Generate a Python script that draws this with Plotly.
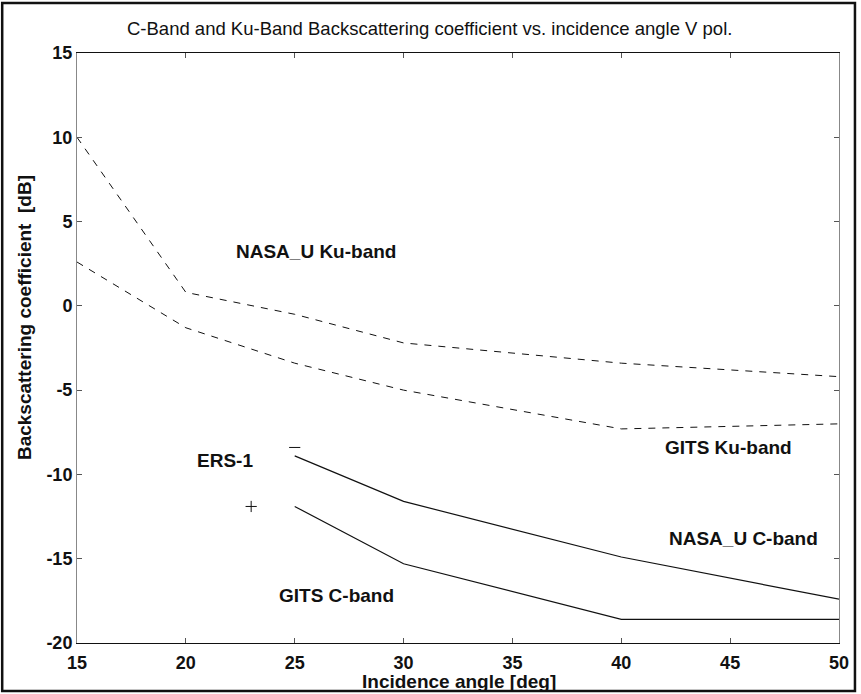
import plotly.graph_objects as go

# Incidence angles (deg)
ku_angles = [15, 20, 25, 30, 40, 50]
c_angles = [25, 30, 40, 50]

# Backscattering coefficient (dB), V polarisation
nasa_ku = [10.0, 0.8, -0.5, -2.2, -3.4, -4.2]
gits_ku = [2.6, -1.3, -3.4, -5.0, -7.3, -7.0]
nasa_c = [-8.9, -11.6, -14.9, -17.4]
gits_c = [-11.9, -15.3, -18.6, -18.6]

# ERS-1 reference points
ers_angles = [25, 23]
ers_values = [-8.4, -11.9]

x_ticks = [15, 20, 25, 30, 35, 40, 45, 50]
y_ticks = [-20, -15, -10, -5, 0, 5, 10, 15]
y_tick_text = ["-20", "-15", "-10", "-5", "0", "5", "10", "15"]

FONT = "Liberation Sans, Arial, sans-serif"
INK = "#111111"

fig = go.Figure()

dash = "7px,7px"
fig.add_trace(go.Scatter(x=ku_angles, y=nasa_ku, mode="lines",
                         line=dict(color=INK, width=1, dash=dash),
                         name="NASA_U Ku-band"))
fig.add_trace(go.Scatter(x=ku_angles, y=gits_ku, mode="lines",
                         line=dict(color=INK, width=1, dash=dash),
                         name="GITS Ku-band"))
fig.add_trace(go.Scatter(x=c_angles, y=nasa_c, mode="lines",
                         line=dict(color=INK, width=1.2),
                         name="NASA_U C-band"))
fig.add_trace(go.Scatter(x=c_angles, y=gits_c, mode="lines",
                         line=dict(color=INK, width=1.2),
                         name="GITS C-band"))
fig.add_trace(go.Scatter(x=ers_angles, y=ers_values, mode="markers",
                         marker=dict(symbol=["line-ew-open", "cross-thin-open"],
                                     size=8, color=INK,
                                     line=dict(color=INK, width=1)),
                         name="ERS-1"))

# In-plot curve labels
labels = [
    ("NASA_U Ku-band", 22.2, 3.2),
    ("GITS Ku-band", 41.9, -8.4),
    ("NASA_U C-band", 42.1, -13.8),
    ("ERS-1", 20.4, -9.2),
    ("GITS C-band", 24.2, -17.2),
]
for txt, lx, ly in labels:
    fig.add_annotation(x=lx, y=ly, text=txt, showarrow=False, xanchor="left",
                       yanchor="middle",
                       font=dict(family=FONT, size=19, color=INK, weight="bold"))

# Titles
fig.add_annotation(xref="paper", yref="paper", x=0.462, y=1.041,
                   text="C-Band and Ku-Band Backscattering coefficient vs. incidence angle V pol.",
                   showarrow=False, xanchor="center", yanchor="middle",
                   font=dict(family=FONT, size=18.5, color=INK))
fig.add_annotation(xref="paper", yref="paper", x=0.501, y=-0.065,
                   text="Incidence angle [deg]", showarrow=False,
                   xanchor="center", yanchor="middle",
                   font=dict(family=FONT, size=19, color=INK, weight="bold"))
fig.add_annotation(xref="paper", yref="paper", x=-0.068, y=0.551,
                   text="Backscattering coefficient&nbsp;&nbsp;[dB]", showarrow=False,
                   textangle=-90, xanchor="center", yanchor="middle",
                   font=dict(family=FONT, size=19, color=INK, weight="bold"))

# Outer figure frame
fig.add_shape(type="rect", xref="paper", yref="paper",
              x0=(2 - 77) / 764, x1=(857 - 77) / 764,
              y0=(643 - 691) / 590, y1=(643 - 3) / 590,
              line=dict(color=INK, width=2.5), fillcolor="rgba(0,0,0,0)",
              layer="above")

fig.update_xaxes(range=[15, 50], tickvals=x_ticks, ticks="inside", ticklen=5,
                 tickcolor="#555", showgrid=False, zeroline=False,
                 showline=True, mirror="ticks", linecolor=INK, linewidth=1.3,
                 ticklabelstandoff=3,
                 tickfont=dict(family=FONT, size=18, color=INK, weight="bold"))
fig.update_yaxes(range=[-20, 15], tickvals=y_ticks, ticktext=y_tick_text,
                 ticks="inside", ticklen=5,
                 tickcolor="#555", showgrid=False, zeroline=False,
                 showline=True, mirror="ticks", linecolor="#888", linewidth=1,
                 tickfont=dict(family=FONT, size=18, color=INK, weight="bold"))

fig.update_layout(width=861, height=694,
                  margin=dict(l=77, r=20, t=53, b=51),
                  paper_bgcolor="white", plot_bgcolor="white",
                  showlegend=False)

fig.write_html("out.html")
